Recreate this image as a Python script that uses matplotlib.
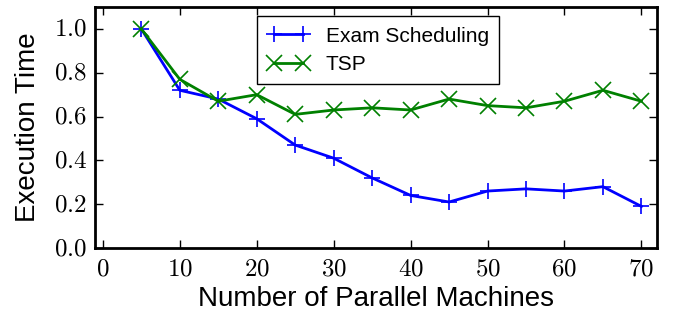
import matplotlib
matplotlib.use("Agg")
import matplotlib.pyplot as plt
from matplotlib.ticker import FormatStrFormatter

plt.style.use("classic")
plt.rcParams["font.family"] = ["Liberation Sans", "DejaVu Sans"]
plt.rcParams["mathtext.fontset"] = "cm"

# data
machines = [5, 10, 15, 20, 25, 30, 35, 40, 45, 50, 55, 60, 65, 70]
exam = [1.0, 0.72, 0.68, 0.59, 0.47, 0.41, 0.32, 0.24, 0.21, 0.26, 0.27, 0.26, 0.28, 0.19]
tsp = [1.0, 0.77, 0.67, 0.70, 0.61, 0.63, 0.64, 0.63, 0.68, 0.65, 0.64, 0.67, 0.72, 0.67]

fig = plt.figure(figsize=(6.75, 3.2), dpi=100, facecolor="white")
ax = fig.add_axes([0.141, 0.225, 0.832, 0.753])

ax.plot(machines, exam, "b", marker="+", markersize=11, mew=1.2, lw=2, label="Exam Scheduling")
ax.plot(machines, tsp, "g", marker="x", markersize=11, mew=1.2, lw=2, label="TSP")

ax.set_xlim(-1, 72)
ax.set_ylim(0, 1.1)
ax.set_xticks(range(0, 71, 10))
ax.set_yticks([0.0, 0.2, 0.4, 0.6, 0.8, 1.0])
ax.xaxis.set_major_formatter(FormatStrFormatter("$%d$"))
ax.yaxis.set_major_formatter(FormatStrFormatter("$%.1f$"))
ax.tick_params(labelsize=18, width=1, length=6, pad=6)
for s in ax.spines.values():
    s.set_linewidth(2)

ax.set_xlabel("Number of Parallel Machines", fontsize=20, labelpad=4)
ax.set_ylabel("Execution Time", fontsize=20, labelpad=9)
ax.legend(loc="upper left", bbox_to_anchor=(0.288, 0.962), borderaxespad=0, fontsize=15,
          numpoints=2, handlelength=2.0, borderpad=0.5, labelspacing=0.45, handletextpad=0.8)

fig.savefig("out.png", dpi=100)
